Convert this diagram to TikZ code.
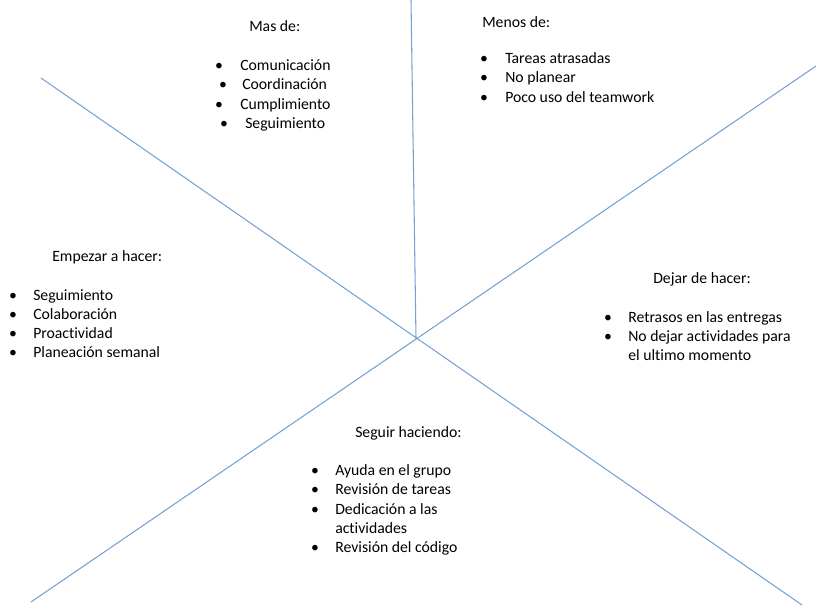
\documentclass[tikz,border=0pt]{standalone}
\usepackage{fontspec}
\setmainfont{Carlito}[Ligatures=NoCommon]
\definecolor{axisblue}{RGB}{118,162,210}
\begin{document}
\begin{tikzpicture}[x=0.75pt,y=-0.75pt,
  txt/.style={inner sep=0pt,anchor=base west,font=\fontsize{11.8pt}{14pt}\selectfont},
  bul/.style={inner sep=0pt,anchor=base,font=\fontsize{11.8pt}{14pt}\selectfont},
  axis/.style={draw=axisblue,line width=0.8pt}]
\useasboundingbox (0,0) rectangle (816,607);
% axes
\coordinate (c) at (416,339);
\coordinate (t) at (411,0);
\coordinate (tl) at (41,78);
\coordinate (tr) at (816,66);
\coordinate (bl) at (31,602);
\coordinate (br) at (802,605);
\draw[axis] (t) -- (c);
\draw[axis] (tl) -- (br);
\draw[axis] (tr) -- (bl);
% Mas de
\node[txt] (masT) at (249,31) {Mas de:};
\node[bul] (masB1) at (219,70) {•}; \node[txt] (mas1) at (240,70) {Comunicación};
\node[bul] (masB2) at (223,89) {•}; \node[txt] (mas2) at (242,89) {Coordinación};
\node[bul] (masB3) at (219,109) {•}; \node[txt] (mas3) at (240,109) {Cumplimiento};
\node[bul] (masB4) at (224,128) {•}; \node[txt] (mas4) at (245,128) {Seguimiento};
% Menos de
\node[txt] (menT) at (482,27) {Menos de:};
\node[bul] (menB1) at (484,63) {•}; \node[txt] (men1) at (505,63) {Tareas atrasadas};
\node[bul] (menB2) at (484,82) {•}; \node[txt] (men2) at (505,82) {No planear};
\node[bul] (menB3) at (484,102) {•}; \node[txt] (men3) at (505,102) {Poco uso del teamwork};
% Empezar a hacer
\node[txt] (empT) at (52,261) {Empezar a hacer:};
\node[bul] (empB1) at (13,300) {•}; \node[txt] (emp1) at (33,300) {Seguimiento};
\node[bul] (empB2) at (13,319) {•}; \node[txt] (emp2) at (33,319) {Colaboración};
\node[bul] (empB3) at (13,338) {•}; \node[txt] (emp3) at (33,338) {Proactividad};
\node[bul] (empB4) at (13,357) {•}; \node[txt] (emp4) at (33,357) {Planeación semanal};
% Dejar de hacer
\node[txt] (dejT) at (653,283) {Dejar de hacer:};
\node[bul] (dejB1) at (608,322) {•}; \node[txt] (dej1) at (628,322) {Retrasos en las entregas};
\node[bul] (dejB2) at (608,341) {•}; \node[txt] (dej2) at (628,341) {No dejar actividades para};
\node[txt] (dej2b) at (628,360) {el ultimo momento};
% Seguir haciendo
\node[txt] (segT) at (355,437) {Seguir haciendo:};
\node[bul] (segB1) at (315,475) {•}; \node[txt] (seg1) at (335,475) {Ayuda en el grupo};
\node[bul] (segB2) at (315,494) {•}; \node[txt] (seg2) at (335,494) {Revisión de tareas};
\node[bul] (segB3) at (315,514) {•}; \node[txt] (seg3) at (335,514) {Dedicación a las};
\node[txt] (seg3b) at (335,533) {actividades};
\node[bul] (segB4) at (315,552) {•}; \node[txt] (seg4) at (335,552) {Revisión del código};
\end{tikzpicture}
\end{document}
